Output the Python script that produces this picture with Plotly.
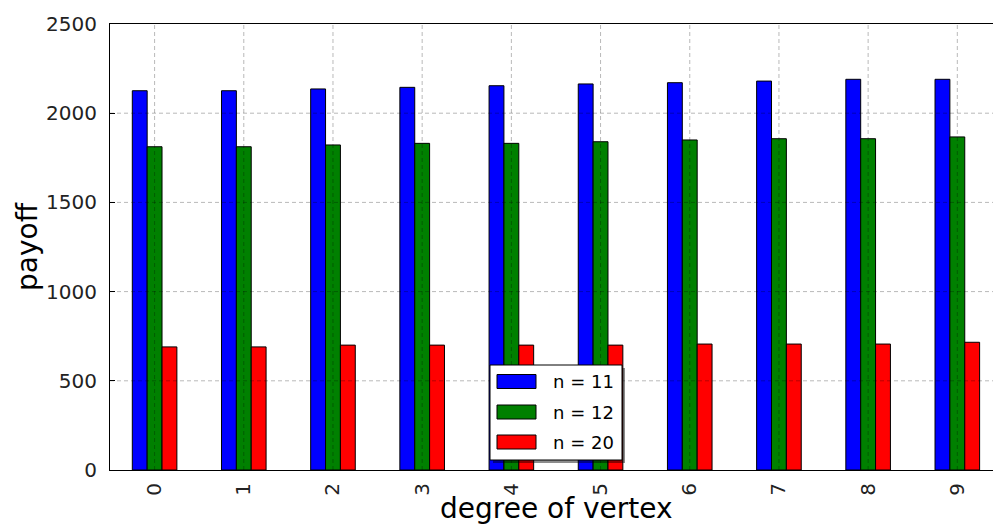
import plotly.graph_objects as go

# ---------------- data ----------------
categories = [0, 1, 2, 3, 4, 5, 6, 7, 8, 9]
tick_labels = ["0", "1", "2", "3", "4", "5", "6", "7", "8", "9"]
series_names = ["n = 11", "n = 12", "n = 20"]
n11 = [2126, 2126, 2136, 2145, 2154, 2164, 2171, 2180, 2190, 2190]
n12 = [1812, 1812, 1822, 1831, 1831, 1840, 1850, 1857, 1857, 1867]
n20 = [690, 690, 700, 700, 700, 700, 706, 706, 706, 716]
y_ticks = [0, 500, 1000, 1500, 2000, 2500]
colors = ["#0000ff", "#008000", "#ff0000"]

W, H = 993, 524
L, R, T, B = 110, 0, 24, 54
PW, PH = W - L - R, H - T - B
FONT = "DejaVu Sans"


def px_x(px):
    return (px - L) / PW


def px_y(py):
    return (H - B - py) / PH


fig = go.Figure()
for name, vals, col in zip(series_names, [n11, n12, n20], colors):
    fig.add_trace(go.Bar(
        x=categories, y=vals, name=name,
        marker=dict(color=col, line=dict(color="black", width=1)),
        showlegend=False,
    ))

shapes = []
grid_style = dict(color="rgba(0,0,0,0.28)", width=1, dash="4px,3px")
for c in categories:
    shapes.append(dict(type="line", xref="x", yref="paper", x0=c, x1=c, y0=0, y1=1,
                       line=grid_style, layer="above"))
for t in y_ticks[1:-1]:
    shapes.append(dict(type="line", xref="paper", yref="y", x0=0, x1=1, y0=t, y1=t,
                       line=grid_style, layer="above"))

# legend box (lower center), drawn by hand to mimic matplotlib's legend
lx0, lx1, ly0, ly1 = 490, 622, 365, 460
shapes.append(dict(type="rect", xref="paper", yref="paper",
                   x0=px_x(lx0 + 3), x1=px_x(lx1 + 3), y0=px_y(ly1 + 3), y1=px_y(ly0 + 3),
                   fillcolor="rgba(0,0,0,0.45)", line=dict(width=0), layer="above"))
shapes.append(dict(type="rect", xref="paper", yref="paper",
                   x0=px_x(lx0), x1=px_x(lx1), y0=px_y(ly1), y1=px_y(ly0),
                   fillcolor="white", line=dict(color="black", width=1), layer="above"))
annotations = []
row_centers = [381.5, 412, 442]
for name, col, rc in zip(series_names, colors, row_centers):
    shapes.append(dict(type="rect", xref="paper", yref="paper",
                       x0=px_x(497), x1=px_x(536), y0=px_y(rc + 7), y1=px_y(rc - 7),
                       fillcolor=col, line=dict(color="black", width=1), layer="above"))
    annotations.append(dict(text=name, xref="paper", yref="paper", x=px_x(551), y=px_y(rc),
                            xanchor="left", yanchor="middle", showarrow=False,
                            font=dict(family=FONT, size=18, color="black")))

annotations.append(dict(text="payoff", xref="paper", yref="paper", x=px_x(27), y=0.5,
                        xanchor="center", yanchor="middle", textangle=-90, showarrow=False,
                        font=dict(family=FONT, size=28, color="black")))
annotations.append(dict(text="degree of vertex", xref="paper", yref="paper", x=px_x(556),
                        y=px_y(509), xanchor="center", yanchor="middle", showarrow=False,
                        font=dict(family=FONT, size=28, color="black")))

fig.update_layout(
    width=W, height=H,
    margin=dict(l=L, r=R, t=T, b=B, pad=0),
    paper_bgcolor="white", plot_bgcolor="white",
    barmode="group", bargap=0.5, bargroupgap=0,
    shapes=shapes, annotations=annotations,
    font=dict(family=FONT, color="black"),
)
fig.update_xaxes(
    range=[-0.5, 9.4], tickmode="array", tickvals=categories, ticktext=tick_labels,
    tickangle=-90, tickfont=dict(family=FONT, size=20, color="#222"),
    showgrid=False, zeroline=False, showline=True, linecolor="black", linewidth=1,
    mirror=True, ticks="", layer="above traces", ticklabelstandoff=4,
)
fig.update_yaxes(
    range=[0, 2500], tickmode="array", tickvals=y_ticks,
    tickfont=dict(family=FONT, size=20, color="#222"),
    showgrid=False, zeroline=False, showline=True, linecolor="black", linewidth=1,
    ticks="inside", ticklen=5, tickcolor="black", layer="above traces",
    ticklabelstandoff=8,
)

fig.write_html(
    "out.html",
    config={"displayModeBar": False},
    post_script="document.body.style.margin='0';document.body.style.overflow='hidden';",
)
